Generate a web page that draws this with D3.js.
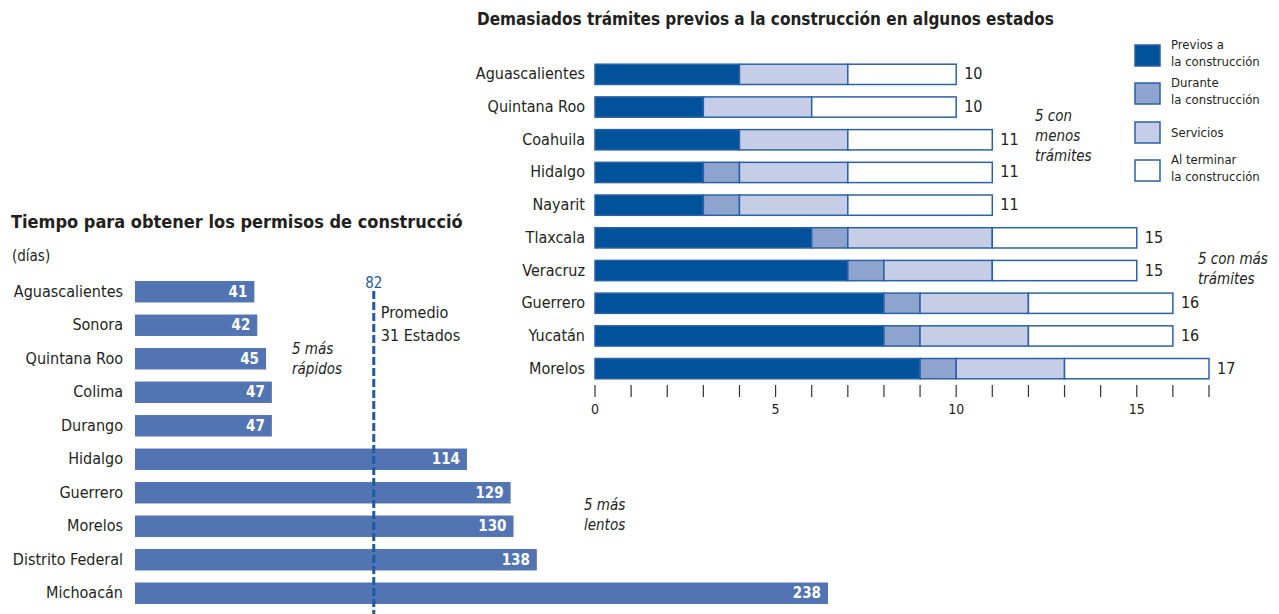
<!DOCTYPE html>
<html>
<head>
<meta charset="utf-8">
<script src="https://cdnjs.cloudflare.com/ajax/libs/d3/7.8.5/d3.min.js"></script>
<style>
  body { margin: 0; background: #fff; }
  svg { display: block; font-family: "Liberation Sans Narrow", "DejaVu Sans Condensed", "Roboto", sans-serif; }
</style>
</head>
<body>
<div id="chart"></div>
<script>
// Left chart: days to obtain building permits
const permitStates = ["Aguascalientes", "Sonora", "Quintana Roo", "Colima", "Durango",
    "Hidalgo", "Guerrero", "Morelos", "Distrito Federal", "Michoacán"];
const permitDays = [41, 42, 45, 47, 47, 114, 129, 130, 138, 238];
const permitAverage = 82;

// Right chart: number of procedures by stage
const procStates = ["Aguascalientes", "Quintana Roo", "Coahuila", "Hidalgo", "Nayarit",
    "Tlaxcala", "Veracruz", "Guerrero", "Yucatán", "Morelos"];
const previos = [4, 3, 4, 3, 3, 6, 7, 8, 8, 9];
const durante = [0, 0, 0, 1, 1, 1, 1, 1, 1, 1];
const servicios = [3, 3, 3, 3, 3, 4, 3, 3, 3, 3];
const alTerminar = [3, 4, 4, 4, 4, 4, 4, 4, 4, 4];
const stageNames = ["Previos a|la construcción", "Durante|la construcción", "Servicios", "Al terminar|la construcción"];
const xTicks = d3.range(0, 18);
const xTickLabels = [0, 5, 10, 15];

const width = 1279, height = 614;
const textColor = "#231f20";
const stroke = "#2a62a8";
const stageColors = ["#00529b", "#8fa3cf", "#c6cde6", "#ffffff"];

const svg = d3.select("#chart").append("svg")
    .attr("width", width)
    .attr("height", height);

// ---------- left chart ----------
const left = svg.append("g");

const xL = d3.scaleLinear().domain([0, 238]).range([135, 828]);
const yL = d3.scaleBand().domain(permitStates).range([275, 610])
    .paddingInner(0.36).paddingOuter(0.18);

left.append("text")
    .attr("x", 11).attr("y", 228)
    .attr("font-size", 18).attr("font-weight", "bold")
    .attr("fill", textColor)
    .text("Tiempo para obtener los permisos de construcción");

left.append("text")
    .attr("x", 12).attr("y", 261)
    .attr("font-size", 15)
    .attr("fill", textColor)
    .text("(días)");

left.selectAll(".pbar")
    .data(permitDays)
    .enter()
    .append("rect")
    .attr("class", "pbar")
    .attr("x", xL(0))
    .attr("y", (d, i) => yL(permitStates[i]))
    .attr("width", d => xL(d) - xL(0))
    .attr("height", yL.bandwidth())
    .attr("fill", "#5274b3");

left.selectAll(".pval")
    .data(permitDays)
    .enter()
    .append("text")
    .attr("class", "pval")
    .attr("x", d => xL(d) - 7)
    .attr("y", (d, i) => yL(permitStates[i]) + yL.bandwidth() / 2 + 5)
    .attr("text-anchor", "end")
    .attr("font-size", 15).attr("font-weight", "bold")
    .attr("fill", "#fff")
    .text(d => d);

left.selectAll(".plab")
    .data(permitStates)
    .enter()
    .append("text")
    .attr("class", "plab")
    .attr("x", 123)
    .attr("y", d => yL(d) + yL.bandwidth() / 2 + 5)
    .attr("text-anchor", "end")
    .attr("font-size", 16)
    .attr("fill", textColor)
    .text(d => d);

// average line
left.append("line")
    .attr("x1", xL(permitAverage)).attr("x2", xL(permitAverage))
    .attr("y1", 291).attr("y2", height)
    .attr("stroke", "#1d5aa3")
    .attr("stroke-width", 3)
    .attr("stroke-dasharray", "8,3");

left.append("text")
    .attr("x", xL(permitAverage)).attr("y", 288)
    .attr("text-anchor", "middle")
    .attr("font-size", 15)
    .attr("fill", "#1d5aa3")
    .text(permitAverage);

left.append("text")
    .attr("x", xL(permitAverage) + 7).attr("y", 318)
    .attr("font-size", 16).attr("fill", textColor)
    .text("Promedio");
left.append("text")
    .attr("x", xL(permitAverage) + 7).attr("y", 341)
    .attr("font-size", 16).attr("fill", textColor)
    .text("31 Estados y");

const note = (g, x, y, lines) => {
    const t = g.append("text")
        .attr("x", x).attr("y", y)
        .attr("font-size", 15).attr("font-style", "italic")
        .attr("fill", textColor);
    lines.forEach((l, i) => t.append("tspan").attr("x", x).attr("dy", i ? 20 : 0).text(l));
};
note(left, 292, 354, ["5 más", "rápidos"]);
note(left, 584, 510, ["5 más", "lentos"]);

// ---------- right chart (panel covers the left one) ----------
svg.append("rect")
    .attr("x", 463).attr("y", 0)
    .attr("width", width - 463).attr("height", 432)
    .attr("fill", "#fff");

const right = svg.append("g");

const xR = d3.scaleLinear().domain([0, 17]).range([595, 1209]);
const yR = d3.scaleBand().domain(procStates).range([58, 385])
    .paddingInner(0.38).paddingOuter(0.19);

right.append("text")
    .attr("x", 477).attr("y", 25)
    .attr("font-size", 17).attr("font-weight", "bold")
    .attr("fill", textColor)
    .text("Demasiados trámites previos a la construcción en algunos estados");

const table = procStates.map((s, i) => ({
    state: s, previos: previos[i], durante: durante[i],
    servicios: servicios[i], alTerminar: alTerminar[i]
}));
const keys = ["previos", "durante", "servicios", "alTerminar"];
const series = d3.stack().keys(keys)(table);

right.selectAll(".layer")
    .data(series)
    .enter()
    .append("g")
    .attr("class", "layer")
    .attr("fill", (d, i) => stageColors[i])
    .selectAll("rect")
    .data(d => d.filter(p => p[1] > p[0]))
    .enter()
    .append("rect")
    .attr("x", d => xR(d[0]))
    .attr("y", d => yR(d.data.state))
    .attr("width", d => xR(d[1]) - xR(d[0]))
    .attr("height", yR.bandwidth())
    .attr("stroke", stroke)
    .attr("stroke-width", 1.5);

right.selectAll(".total")
    .data(table)
    .enter()
    .append("text")
    .attr("class", "total")
    .attr("x", d => xR(d.previos + d.durante + d.servicios + d.alTerminar) + 8)
    .attr("y", d => yR(d.state) + yR.bandwidth() / 2 + 5)
    .attr("font-size", 16)
    .attr("fill", textColor)
    .text(d => d.previos + d.durante + d.servicios + d.alTerminar);

right.selectAll(".rlab")
    .data(procStates)
    .enter()
    .append("text")
    .attr("class", "rlab")
    .attr("x", 585)
    .attr("y", d => yR(d) + yR.bandwidth() / 2 + 5)
    .attr("text-anchor", "end")
    .attr("font-size", 16)
    .attr("fill", textColor)
    .text(d => d);

// axis: small ticks every unit, labels every 5
const axis = right.append("g").attr("transform", "translate(0,385)");
axis.selectAll("line")
    .data(xTicks)
    .enter()
    .append("line")
    .attr("x1", d => xR(d)).attr("x2", d => xR(d))
    .attr("y1", 0).attr("y2", 12)
    .attr("stroke", "#333")
    .attr("stroke-width", 1.2);
axis.selectAll("text")
    .data(xTickLabels)
    .enter()
    .append("text")
    .attr("x", d => xR(d))
    .attr("y", 29)
    .attr("text-anchor", "middle")
    .attr("font-size", 14)
    .attr("fill", textColor)
    .text(d => d);

note(right, 1035, 121, ["5 con", "menos", "trámites"]);
note(right, 1198, 264, ["5 con más", "trámites"]);

// legend
const legend = right.append("g");
stageNames.forEach((name, i) => {
    const top = [45, 83, 122, 160][i];
    legend.append("rect")
        .attr("x", 1135).attr("y", top)
        .attr("width", 25).attr("height", 21)
        .attr("fill", stageColors[i])
        .attr("stroke", stroke).attr("stroke-width", 1.5);
    const lines = name.split("|");
    const t = legend.append("text")
        .attr("font-size", 13).attr("fill", textColor);
    lines.forEach((l, j) => t.append("tspan")
        .attr("x", 1171)
        .attr("y", (lines.length === 1 ? top + 15 : top + 4) + j * 17)
        .text(l));
});
</script>
</body>
</html>
